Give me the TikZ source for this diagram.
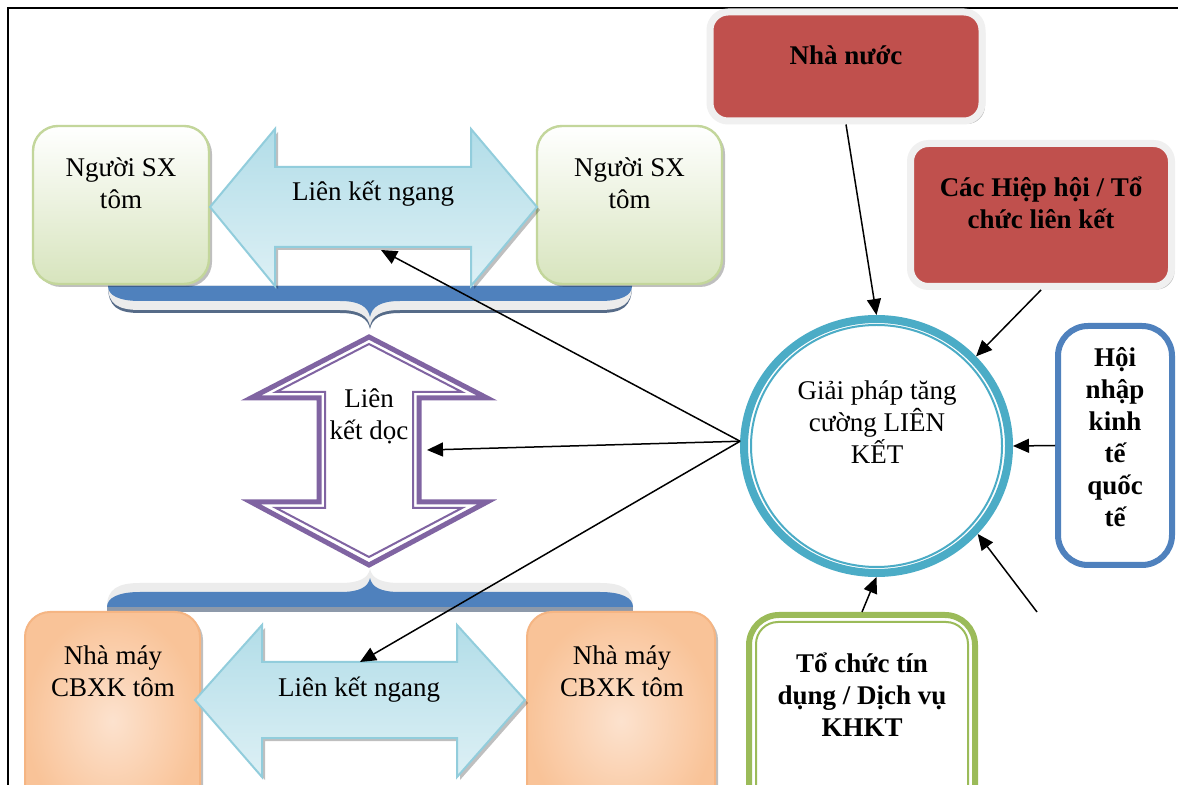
\documentclass[tikz,border=0pt]{standalone}
\usepackage{fontspec}
\setmainfont{Liberation Serif}
\usetikzlibrary{shadows,arrows.meta,shapes.geometric}
\definecolor{bandblue}{HTML}{4F81BD}
\definecolor{bandlight}{HTML}{ECECEC}
\definecolor{bandshadow}{HTML}{566B88}
\definecolor{bandgray}{HTML}{8D99AA}
\definecolor{arrfillA}{HTML}{B2DDE8}
\definecolor{arrfillB}{HTML}{DDF0F5}
\definecolor{arrline}{HTML}{92CDDC}
\definecolor{grbot}{HTML}{D7E4BD}
\definecolor{grline}{HTML}{C3D69B}
\definecolor{ortop}{HTML}{F9C398}
\definecolor{orbot}{HTML}{FCE2CE}
\definecolor{orline}{HTML}{F5B583}
\definecolor{redbox}{HTML}{C0504D}
\definecolor{ringgray}{HTML}{F0F0F0}
\definecolor{purp}{HTML}{8064A2}
\definecolor{circteal}{HTML}{4BACC6}
\definecolor{hnblue}{HTML}{4F81BD}
\definecolor{tcgreen}{HTML}{9BBB59}
\newcommand\topbr[1]{(108,286) -- (632,286) .. controls (632,{295+#1}) and (622,{301+#1}) .. (600,{301+#1}) -- (400,{301+#1}) .. controls (380,{301+#1}) and (372,{307+#1}) .. (370,{317+#1}) .. controls (368,{307+#1}) and (360,{301+#1}) .. (340,{301+#1}) -- (140,{301+#1}) .. controls (118,{301+#1}) and (108,{295+#1}) .. (108,286) -- cycle}
\newcommand\botbr[1]{(107,607) -- (633,607) .. controls (633,{598-#1}) and (622,{592-#1}) .. (600,{592-#1}) -- (400,{592-#1}) .. controls (380,{592-#1}) and (372,{587-#1}) .. (370,{578-#1}) .. controls (368,{587-#1}) and (360,{592-#1}) .. (340,{592-#1}) -- (140,{592-#1}) .. controls (118,{592-#1}) and (107,{598-#1}) .. (107,607) -- cycle}
\begin{document}
\begin{tikzpicture}[x=0.5pt,y=-0.5pt,
  txt/.style={font=\fontsize{13.5}{16}\selectfont, align=center, inner sep=0pt},
  btxt/.style={font=\fontsize{13.5}{16}\selectfont\bfseries, align=center, inner sep=0pt},
  softshadow/.style={drop shadow={shadow xshift=1.5pt, shadow yshift=-1.5pt, fill=black, opacity=0.25}},
  greenbox/.style={rectangle, rounded corners=12.5pt, draw=grline, line width=1.2pt, top color=white, bottom color=grbot, softshadow, minimum height=79pt},
  orangebox/.style={rectangle, rounded corners=12.5pt, draw=orline, line width=1pt, shading=radial, inner color=orbot, outer color=ortop, softshadow, minimum height=109pt},
  redbx/.style={rectangle, rounded corners=9pt, draw=ringgray, line width=3.5pt, fill=redbox, softshadow},
  blueArr/.style={draw=arrline, line width=1pt, line join=miter, top color=arrfillA, bottom color=arrfillB, softshadow},
  conn/.style={line width=0.75pt, -{Triangle[length=8pt,width=7pt]}}
]
\fill[white] (0,0) rectangle (1178,785);
\useasboundingbox (0,0) rectangle (1178,785);
% frame
\draw[line width=1pt] (8,785) -- (8,8) -- (1178,8);

% braces
\fill[bandshadow] \topbr{12};
\fill[bandlight] \topbr{9};
\fill[bandblue] \topbr{0};
\fill[bandgray] (107,607) rectangle (633,612);
\fill[bandlight] \botbr{9};
\fill[bandblue] \botbr{0};

% left boxes
\node[greenbox, minimum width=88pt] (g1) at (121,205) {};
\node[greenbox, minimum width=92.5pt] (g2) at (629.5,205) {};
\node[orangebox, minimum width=87.5pt] (o1) at (112.5,721) {};
\node[orangebox, minimum width=94pt] (o2) at (621,721) {};
\node[txt] (g1t) at (121,183) {Người SX\\tôm};
\node[txt] (g2t) at (629.5,183) {Người SX\\tôm};
\node[txt] (o1t) at (113,671) {Nhà máy\\CBXK tôm};
\node[txt] (o2t) at (622,671) {Nhà máy\\CBXK tôm};

% horizontal double arrows
\path[blueArr] (210,207) -- (275,129) -- (275,167) -- (471,167) -- (471,129) -- (537,207) -- (471,286) -- (471,247) -- (275,247) -- (275,286) -- cycle;
\path[blueArr] (195,700) -- (262,625) -- (262,662) -- (457,662) -- (457,625) -- (525,700) -- (457,777) -- (457,738) -- (262,738) -- (262,777) -- cycle;
\node[txt] (lk1) at (373,194) {Liên kết ngang};
\node[txt] (lk2) at (359,690) {Liên kết ngang};

% vertical double arrow
\filldraw[fill=white, draw=purp, line width=2.5pt, line join=miter] (369,337) -- (487,398) -- (419,398) -- (419,502) -- (487,502) -- (369,565) -- (251,502) -- (319,502) -- (319,398) -- (251,398) -- cycle;
\draw[draw=purp, line width=1pt, line join=miter] (369,344) -- (462,392) -- (413,392) -- (413,508) -- (462,508) -- (369,557) -- (276,508) -- (325,508) -- (325,392) -- (276,392) -- cycle;
\node[txt] (lkd) at (369,416) {Liên\\kết dọc};

% right side boxes
\node[redbx, minimum width=136pt, minimum height=54.5pt] (r1) at (846,66.5) {};
\node[btxt] (r1t) at (846,55) {Nhà nước};
\node[redbx, minimum width=130.5pt, minimum height=71.5pt] (r2) at (1041,215) {};
\node[btxt] (r2t) at (1041,203) {Các Hiệp hội / Tổ\\chức liên kết};
\node[rectangle, rounded corners=15pt, draw=hnblue, line width=3pt, fill=white, minimum width=57pt, minimum height=119.5pt] (hn) at (1115,445.5) {};
\node[btxt] (hnt) at (1115,437) {Hội\\nhập\\kinh\\tế\\quốc\\tế};
\node[rectangle, rounded corners=15pt, draw=tcgreen, line width=3pt, fill=white, minimum width=113pt, minimum height=110pt] (tc) at (862,725) {};
\draw[tcgreen, line width=1pt, rounded corners=11pt] (756,622) rectangle (968,850);
\node[btxt] (tct) at (862,695) {Tổ chức tín\\dụng / Dịch vụ\\KHKT};

% circle
\node[ellipse, draw=circteal, line width=4pt, fill=white, minimum width=132.5pt, minimum height=127pt] (c) at (876.5,446) {};
\node[ellipse, draw=circteal, line width=1pt, minimum width=125.5pt, minimum height=121pt] (ci) at (876.5,446) {};
\node[txt] (ct) at (877,422) {Giải pháp tăng\\cường LIÊN\\KẾT};

% connectors
\coordinate (tA) at (381,250);
\coordinate (tV) at (427,450);
\coordinate (tB) at (360,662);
\coordinate (free) at (1037,612);
\draw[conn] (r1.south) -- (c.north);
\draw[conn] (r2.south) -- (c.42);
\draw[conn] (hn.west) -- (c.east);
\draw[conn] (free) -- (c.-41);
\draw[conn] (tc.north) -- (c.south);
\draw[conn] (c.178) -- (tA);
\draw[conn] (c.178) -- (tV);
\draw[conn] (c.178) -- (tB);
\end{tikzpicture}
\end{document}
